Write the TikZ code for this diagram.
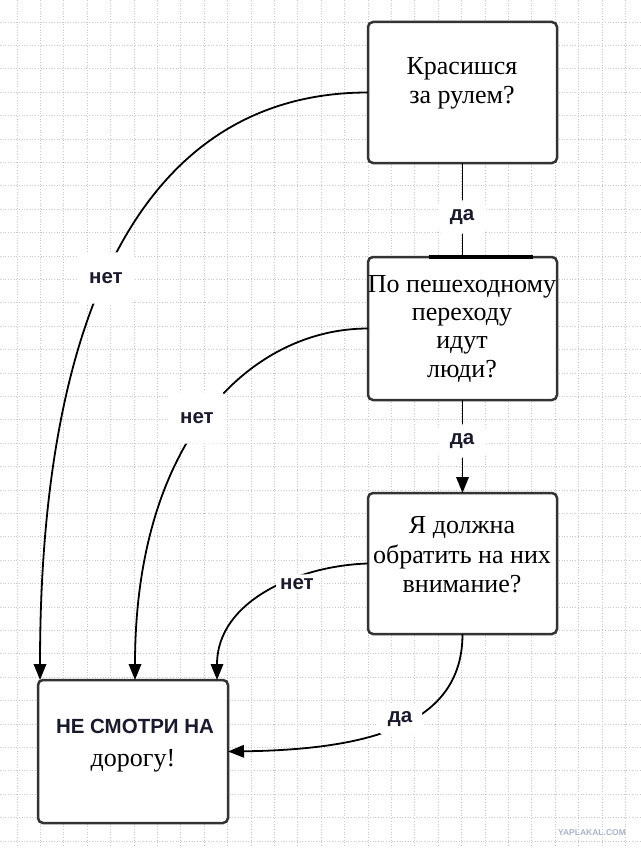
\documentclass[tikz,border=0pt]{standalone}
\usepackage{fontspec}
\setmainfont{Liberation Serif}
\setsansfont{Liberation Sans}
\usetikzlibrary{arrows.meta,calc}
\definecolor{boxcol}{HTML}{333333}
\definecolor{gridcol}{HTML}{C8C8C8}
\definecolor{labcol}{HTML}{1A1A2E}
\definecolor{wmcol}{HTML}{A8B4CC}
\begin{document}
\begin{tikzpicture}[x=1pt,y=-1pt,
  box/.style={draw=boxcol, line width=2.5pt, fill=white, rounded corners=5pt,
    minimum width=189pt, minimum height=141pt, inner sep=0pt, outer sep=0pt},
  conn/.style={line width=1.8pt, draw=black},
  arr/.style={conn, -{Triangle[length=16pt,width=12.5pt]}},
  lbl/.style={font=\sffamily\bfseries\fontsize{20.5}{24}\selectfont, fill=white,
    inner xsep=12pt, inner ysep=9pt, text=labcol, rounded corners=6pt},
  txt/.style={font=\fontsize{26}{29}\selectfont, anchor=base, inner sep=0pt},
  sanstxt/.style={font=\sffamily\bfseries\fontsize{20.5}{24}\selectfont, anchor=base, inner sep=0pt, text=labcol},
  gridl/.style={draw=gridcol, line width=0.7pt, dotted}]
\useasboundingbox (0,0) rectangle (640,848);
\fill[white] (0,0) rectangle (640,848);
% grid
\foreach \i in {0,...,26} {\draw[gridl] ({17+23.4*\i},0) -- ({17+23.4*\i},848);}
\foreach \i in {0,...,35} {\draw[gridl] (0,{22+23.4*\i}) -- (640,{22+23.4*\i});}
% boxes
\node[box] (b1) at (462.5,92.5) {};
\node[box, minimum height=143pt] (b2) at (462.5,328.5) {};
\node[box] (b3) at (462.5,563.5) {};
\node[box, minimum width=190pt, minimum height=143pt] (b4) at (133,751.5) {};
% free ends
\coordinate (e1) at ($(b4.north west)+(2,0)$);
\coordinate (e2) at ($(b4.north)+(2,0)$);
\coordinate (e3) at ($(b4.north east)+(-11,0)$);
\coordinate (bl) at ($(b2.north)+(-34,0)$);
\coordinate (br) at ($(b2.north)+(70,0)$);
% connectors
\draw[conn] (b1.south) -- (b2.north);
\draw[line width=4.5pt] (bl) -- (br);
\draw[arr] (b2.south) -- (b3.north);
\draw[arr] (b1.west) .. controls +(-218,0) and +(0,-380) .. (e1);
\draw[arr] (b2.west) .. controls +(-118,0) and +(0,-240) .. (e2);
\draw[arr] (b3.west) .. controls +(-68,2) and +(0,-80) .. (e3);
\draw[arr] (b3.south) .. controls +(0,86) and +(152,-2) .. (b4.east);
% labels
\node[lbl] (l1) at (462,217) {да};
\node[lbl] (l2) at (462,441) {да};
\node[lbl, inner ysep=20pt] (l3) at (106,278) {нет};
\node[lbl, inner ysep=20pt] (l4) at (197,418) {нет};
\node[lbl, inner xsep=4pt, inner ysep=4pt] (l5) at (297,584) {нет};
\node[lbl, inner xsep=10pt, inner ysep=8pt] (l6) at (400,719) {да};
% texts
\node[txt] (t1a) at (462,75) {Красишся};
\node[txt] (t1b) at (462,104) {за рулем?};
\node[txt] (t2a) at (462,292) {По пешеходному};
\node[txt] (t2b) at (462,320) {переходу};
\node[txt] (t2c) at (462,348) {идут};
\node[txt] (t2d) at (462,377) {люди?};
\node[txt] (t3a) at (462,533) {Я должна};
\node[txt] (t3b) at (462,563) {обратить на них};
\node[txt] (t3c) at (462,592) {внимание?};
\node[sanstxt] (t4a) at (135,733) {НЕ СМОТРИ НА};
\node[txt] (t4b) at (133,766) {дорогу!};
% watermark
\node[font=\sffamily\bfseries\fontsize{8.5}{9}\selectfont, text=wmcol, inner sep=0pt] (wm) at (592,833) {YAPLAKAL.COM};
\end{tikzpicture}
\end{document}
